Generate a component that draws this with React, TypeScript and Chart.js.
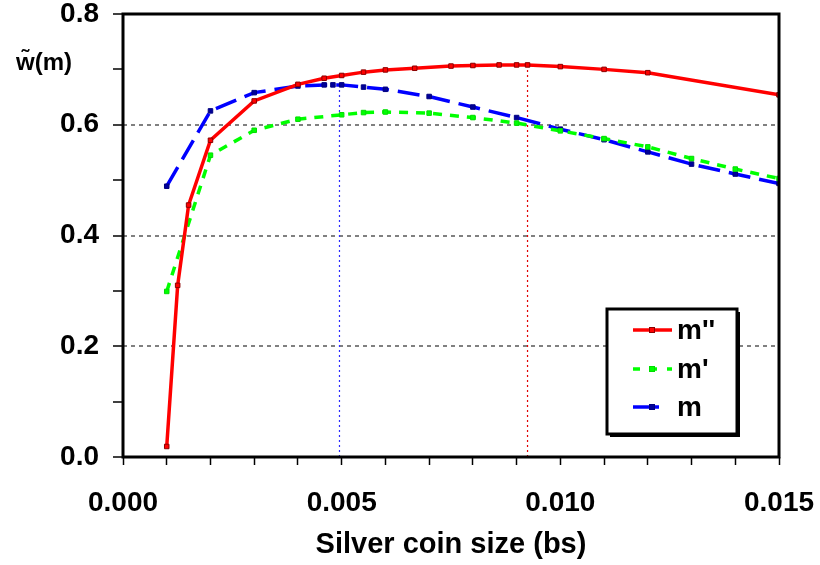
import React, { useEffect, useRef } from "react";
import { Chart, registerables } from "chart.js";

Chart.register(...registerables);

// ---- data ----
const xRed = [0.001, 0.00125, 0.0015, 0.002, 0.003, 0.004, 0.0046, 0.005, 0.0055, 0.006, 0.00667, 0.0075, 0.008, 0.0086, 0.009, 0.00925, 0.01, 0.011, 0.012, 0.015];
const yRed = [0.019, 0.31, 0.455, 0.572, 0.643, 0.673, 0.684, 0.689, 0.695, 0.699, 0.702, 0.706, 0.707, 0.708, 0.708, 0.708, 0.705, 0.7, 0.694, 0.654];

const xGreen = [0.001, 0.002, 0.003, 0.004, 0.005, 0.0055, 0.006, 0.007, 0.008, 0.009, 0.01, 0.011, 0.012, 0.013, 0.014, 0.015];
const yGreen = [0.299, 0.545, 0.59, 0.61, 0.618, 0.622, 0.623, 0.621, 0.613, 0.603, 0.589, 0.575, 0.56, 0.539, 0.52, 0.503];

const xBlue = [0.001, 0.002, 0.003, 0.004, 0.0046, 0.0048, 0.005, 0.0055, 0.006, 0.007, 0.008, 0.009, 0.01, 0.011, 0.012, 0.013, 0.014, 0.015];
const yBlue = [0.489, 0.625, 0.658, 0.67, 0.672, 0.672, 0.672, 0.668, 0.664, 0.651, 0.632, 0.613, 0.592, 0.573, 0.551, 0.529, 0.511, 0.494];

// reference (optimum) markers: x position and height
const refBlue = { x: 0.00495, y: 0.672 };
const refRed = { x: 0.00925, y: 0.708 };

const seriesLabels = ["m''", "m'", "m"];
const yAxisLabel = "w\u0303(m)";
const xAxisTitle = "Silver coin size (bs)";
const xLabelTicks = [0, 0.005, 0.01, 0.015];
const yGridValues = [0.2, 0.4, 0.6];

const FONT = "Arial, 'Liberation Sans', Helvetica, sans-serif";

const pts = (xs: number[], ys: number[]) => xs.map((x, i) => ({ x, y: ys[i] }));

const styles = [
  { color: "#ff0000", dash: [] as number[], pointBg: "#ff0000", pointBorder: "#8b0000" },
  { color: "#00ff00", dash: [9, 8], pointBg: "#00ff00", pointBorder: "#00dd00" },
  { color: "#0000ff", dash: [22, 9], pointBg: "#000099", pointBorder: "#000080" },
];

const framePlugin = {
  id: "frame",
  afterDatasetsDraw(chart: any) {
    const { ctx, chartArea: a, scales } = chart;
    ctx.save();
    // plot frame
    ctx.strokeStyle = "#000";
    ctx.lineWidth = 3;
    ctx.strokeRect(a.left, a.top, a.right - a.left, a.bottom - a.top);

    // y axis label (w~(m))
    ctx.fillStyle = "#000";
    ctx.font = `bold 24px ${FONT}`;
    ctx.textAlign = "center";
    ctx.textBaseline = "middle";
    ctx.fillText(yAxisLabel, a.left - 79, scales.y.getPixelForValue(0.71));

    // legend box
    const bx = a.right - 172;
    const by = a.bottom - 148;
    const bw = 130;
    const bh = 125;
    ctx.fillStyle = "#000";
    ctx.fillRect(bx + 3, by + 3, bw, bh);
    ctx.fillStyle = "#fff";
    ctx.fillRect(bx, by, bw, bh);
    ctx.strokeStyle = "#000";
    ctx.lineWidth = 3;
    ctx.strokeRect(bx, by, bw, bh);

    const rows = [by + 21, by + 60, by + 98];
    const lx0 = bx + 26;
    const lx1 = bx + 65;
    const sampleEnds = [lx1, lx1, bx + 52];
    seriesLabels.forEach((lab, i) => {
      const s = styles[i];
      const y = rows[i];
      ctx.strokeStyle = s.color;
      ctx.lineWidth = 3.5;
      ctx.setLineDash(i === 1 ? [7, 10] : []);
      ctx.beginPath();
      ctx.moveTo(lx0, y);
      ctx.lineTo(sampleEnds[i], y);
      ctx.stroke();
      ctx.setLineDash([]);
      const mx = bx + 45;
      ctx.fillStyle = s.pointBg;
      ctx.fillRect(mx - 2.5, y - 2.5, 5, 5);
      ctx.strokeStyle = s.pointBorder;
      ctx.lineWidth = 1;
      ctx.strokeRect(mx - 2.5, y - 2.5, 5, 5);
      ctx.fillStyle = "#000";
      ctx.font = `bold 28px ${FONT}`;
      ctx.textAlign = "left";
      ctx.textBaseline = "middle";
      ctx.fillText(lab, bx + 70, y + 1);
    });
    ctx.restore();
  },
};

export default function App() {
  const ref = useRef<HTMLCanvasElement | null>(null);

  useEffect(() => {
    document.body.style.margin = "0";
    if (!ref.current) return;
    const series = [pts(xRed, yRed), pts(xGreen, yGreen), pts(xBlue, yBlue)];
    const datasets: any[] = series.map((data, i) => ({
      label: seriesLabels[i],
      data,
      borderColor: styles[i].color,
      borderWidth: 3.5,
      borderDash: styles[i].dash,
      pointStyle: "rect",
      pointRadius: 3.2,
      pointBorderWidth: 1,
      pointBackgroundColor: styles[i].pointBg,
      pointBorderColor: styles[i].pointBorder,
      fill: false,
      tension: 0,
    }));
    datasets.push(
      {
        label: "ref-m",
        data: [{ x: refBlue.x, y: 0 }, { x: refBlue.x, y: refBlue.y }],
        borderColor: "#2a2aff",
        borderWidth: 1.2,
        borderDash: [2, 3],
        pointRadius: 0,
        fill: false,
      },
      {
        label: "ref-m''",
        data: [{ x: refRed.x, y: 0 }, { x: refRed.x, y: refRed.y }],
        borderColor: "#e00000",
        borderWidth: 1.2,
        borderDash: [2, 3],
        pointRadius: 0,
        fill: false,
      }
    );

    const chart = new Chart(ref.current, {
      type: "line",
      data: { datasets },
      plugins: [framePlugin],
      options: {
        animation: false,
        responsive: true,
        maintainAspectRatio: false,
        layout: { padding: { left: 0, right: 41, top: 14, bottom: 0 } },
        plugins: { legend: { display: false }, tooltip: { enabled: false } },
        scales: {
          x: {
            type: "linear",
            min: 0,
            max: 0.015,
            afterFit: (s: any) => {
              s.height = 108;
              s.paddingLeft = 0;
              s.paddingRight = 0;
            },
            ticks: {
              stepSize: 0.001,
              autoSkip: false,
              maxRotation: 0,
              padding: 24,
              color: "#000",
              font: { family: FONT, size: 28, weight: "bold", lineHeight: 1 },
              callback: (v: any) => {
                const k = Math.round(Number(v) * 1000);
                return k % 5 === 0 ? xLabelTicks.find((t) => Math.round(t * 1000) === k)!.toFixed(3) : "";
              },
            },
            grid: {
              drawOnChartArea: false,
              drawTicks: true,
              tickLength: 8,
              tickColor: "#000",
              tickWidth: 1.5,
              color: "transparent",
            },
            border: { display: false },
            title: {
              display: true,
              text: xAxisTitle,
              color: "#000",
              font: { family: FONT, size: 29, weight: "bold", lineHeight: 1 },
              padding: { top: 12, bottom: 6 },
            },
          },
          y: {
            type: "linear",
            min: 0,
            max: 0.8,
            afterFit: (s: any) => {
              s.width = 123;
              s.paddingTop = 0;
              s.paddingBottom = 0;
            },
            ticks: {
              stepSize: 0.1,
              autoSkip: false,
              padding: 14,
              color: "#000",
              font: { family: FONT, size: 28, weight: "bold", lineHeight: 1 },
              callback: (v: any) => {
                const k = Math.round(Number(v) * 10);
                return k % 2 === 0 ? (k / 10).toFixed(1) : "";
              },
            },
            grid: {
              drawOnChartArea: true,
              drawTicks: true,
              tickLength: 10,
              tickColor: "#000",
              tickWidth: 1.5,
              lineWidth: 2,
              color: (c: any) => {
                const v = c.tick ? c.tick.value : NaN;
                return yGridValues.some((g) => Math.abs(g - v) < 1e-6) ? "#808080" : "transparent";
              },
            },
            border: { display: false, dash: [4, 4] },
          },
        },
      },
    });
    return () => chart.destroy();
  }, []);

  return (
    <div style={{ position: "fixed", left: 0, top: 0, width: 820, height: 565, background: "#fff" }}>
      <canvas ref={ref} />
    </div>
  );
}
